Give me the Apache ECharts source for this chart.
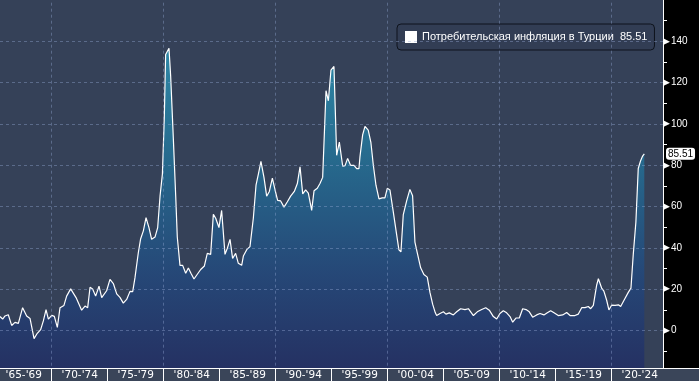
<!DOCTYPE html>
<html>
<head>
<meta charset="utf-8">
<script src="https://cdn.jsdelivr.net/npm/echarts@6/dist/echarts.min.js"></script>
<style>
html,body{margin:0;padding:0;background:#000;}
#chart{width:699px;height:381px;}
</style>
</head>
<body>
<div id="chart"></div>
<script>
// decimal year of each reading
const dates = [
1965.38,1965.62,1965.83,1966.12,1966.42,1966.72,1967.02,1967.40,1967.76,1968.06,
1968.42,1968.71,1969.01,1969.25,1969.49,1969.70,1970.00,1970.23,1970.50,1970.74,
1971.09,1971.33,1971.69,1972.17,1972.67,1972.97,1973.21,1973.42,1973.65,1973.92,
1974.22,1974.46,1974.90,1975.20,1975.50,1975.80,1976.09,1976.39,1976.69,1976.99,
1977.23,1977.43,1977.73,1977.94,1978.18,1978.42,1978.68,1978.92,1979.22,1979.46,
1979.67,1979.88,1980.05,1980.17,1980.47,1980.62,1980.86,1981.07,1981.21,1981.45,
1981.69,1981.96,1982.20,1982.43,1982.70,1983.00,1983.30,1983.63,1983.89,1984.19,
1984.43,1984.64,1984.93,1985.17,1985.47,1985.68,1985.92,1986.15,1986.42,1986.66,
1986.96,1987.11,1987.41,1987.70,1988.00,1988.24,1988.45,1988.68,1988.95,1989.19,
1989.43,1989.70,1989.94,1990.17,1990.44,1990.74,1991.04,1991.33,1991.66,1991.93,
1992.17,1992.41,1992.67,1992.91,1993.21,1993.42,1993.71,1993.95,1994.19,1994.49,
1994.70,1994.93,1995.20,1995.44,1995.68,1995.98,1996.19,1996.42,1996.69,1996.99,
1997.23,1997.43,1997.52,1997.76,1997.97,1998.26,1998.50,1998.71,1998.95,1999.22,
1999.51,1999.75,1999.96,2000.20,2000.50,2000.79,2001.00,2001.18,2001.39,2001.69,
2001.98,2002.22,2002.43,2002.64,2002.94,2003.23,2003.53,2003.77,2004.01,2004.25,
2004.37,2004.67,2004.97,2005.20,2005.50,2005.86,2006.16,2006.51,2006.90,2007.20,
2007.65,2008.00,2008.39,2008.75,2009.07,2009.43,2009.73,2010.02,2010.32,2010.62,
2010.92,2011.16,2011.45,2011.75,2012.05,2012.35,2012.64,2012.94,2013.30,2013.60,
2013.95,2014.25,2014.55,2014.85,2015.23,2015.62,2015.98,2016.28,2016.72,2017.02,
2017.32,2017.62,2017.91,2018.12,2018.36,2018.66,2018.81,2019.10,2019.30,2019.55,
2019.75,2019.99,2020.30,2020.60,2020.80,2021.10,2021.48,2021.72,2021.93,2022.16,
2022.37,2022.58,2022.76,2022.91
];
// consumer inflation, % y/y
const cpi = [
6.7,5.5,7.0,7.6,2.4,3.9,3.4,11.0,7.0,5.8,
-4.0,-1.4,0.4,4.6,10.0,5.5,7.3,6.8,1.5,11.0,
12.1,16.6,20.1,15.9,9.8,11.8,11.0,20.9,20.1,16.6,
21.4,15.9,19.2,24.7,22.7,17.7,16.0,13.2,15.0,18.9,
18.8,25.4,37.6,44.4,48.2,54.6,49.8,44.1,45.2,49.8,
65.0,75.7,103.0,133.6,136.6,123.0,92.5,65.0,45.2,31.5,
31.5,27.7,30.2,27.7,24.9,27.2,29.5,31.2,37.3,36.8,
56.2,54.3,49.8,58.1,36.8,39.8,44.1,34.8,37.3,32.5,
31.5,36.0,39.1,40.6,54.3,70.3,75.7,81.8,74.1,65.0,
67.3,73.7,68.0,63.0,62.7,59.7,62.3,65.0,67.3,71.1,
79.2,66.1,68.0,66.5,58.1,67.6,68.8,71.1,74.1,116.1,
111.2,126.0,127.8,84.8,91.2,79.5,79.8,83.3,79.9,79.9,
78.3,78.3,84.0,94.7,98.8,97.0,90.9,80.2,70.3,63.7,
64.2,64.2,68.8,68.0,57.3,46.6,39.0,38.0,56.1,62.7,
68.3,65.2,42.8,37.5,30.3,27.1,25.8,18.4,12.7,8.5,
7.2,8.2,9.0,7.9,8.5,7.5,9.0,10.5,10.1,10.5,
7.2,9.0,10.1,11.0,9.8,6.7,5.5,8.2,9.5,8.5,
6.7,4.0,6.0,6.0,10.5,10.1,9.0,6.4,7.5,8.2,
7.5,8.5,9.5,8.5,7.2,7.5,8.7,7.2,7.2,7.9,
11.0,11.0,11.6,10.5,12.1,22.0,25.0,20.5,19.0,14.6,
9.9,12.2,12.1,12.4,11.6,14.6,18.4,20.5,37.2,52.5,
78.4,82.2,84.4,85.51
];
const seriesName = 'Потребительская инфляция в Турции';
const lastValue = '85.51';
const periodLabels = ["'65-'69","'70-'74","'75-'79","'80-'84","'85-'89","'90-'94","'95-'99","'00-'04","'05-'09","'10-'14","'15-'19","'20-'24"];
const periodStarts = [1965,1970,1975,1980,1985,1990,1995,2000,2005,2010,2015,2020];
const decadeLines = [1970,1980,1990,2000,2010,2020];
const valueLines = [0,20,40,60,80,100,120,140];

const X_MIN = 1965.38, X_MAX = 2024.58;
const periodBounds = periodStarts.slice(1);
const periodMids = periodStarts.map(s => s + 2.5);

const chart = echarts.init(document.getElementById('chart'), null, {renderer: 'canvas'});
chart.setOption({
  backgroundColor: '#000',
  animation: false,
  grid: {left: 0, right: 36, top: -21.6, bottom: 9.3, show: true, backgroundColor: '#354158', borderWidth: 0},
  legend: {
    left: 397, top: 24,
    padding: [7, 7, 7, 8],
    itemWidth: 12, itemHeight: 12, itemGap: 10,
    icon: 'rect',
    backgroundColor: '#323d54', borderColor: '#0e131c', borderWidth: 1, borderRadius: 4,
    textStyle: {color: '#fff', fontSize: 11, fontFamily: 'Liberation Sans'},
    formatter: n => n + '  ' + lastValue,
    data: [{name: seriesName, itemStyle: {color: '#fff'}}]
  },
  xAxis: [
    {
      type: 'value', min: X_MIN, max: X_MAX,
      axisLine: {show: false},
      axisLabel: {show: false},
      axisTick: {show: false},
      splitLine: {show: false}
    },
    {
      type: 'value', min: X_MIN, max: X_MAX, position: 'bottom', offset: -3.7, z: 60,
      axisLine: {show: true, lineStyle: {color: '#fff', width: 1}},
      axisTick: {show: true, customValues: periodBounds, length: 13, lineStyle: {color: '#fff', width: 1}},
      axisLabel: {
        show: true, customValues: periodMids, margin: 2,
        color: '#fff', fontSize: 10.5, fontFamily: 'DejaVu Sans',
        formatter: v => periodLabels[Math.round((v - 1967.5) / 5)] || ''
      },
      splitLine: {show: false}
    }
  ],
  yAxis: {
    type: 'value', position: 'right', min: -20, max: 160, interval: 20,
    axisLine: {show: true, lineStyle: {color: '#fff', width: 1}},
    axisTick: {show: false},
    minorTick: {show: true, splitNumber: 2, length: 4, lineStyle: {color: '#fff', width: 1}},
    minorSplitLine: {show: false},
    splitLine: {show: false},
    axisLabel: {
      margin: 0,
      formatter: v => (v >= 0 && v <= 140) ? '{a|\u25B6}{b|' + v + '}' : '',
      rich: {
        a: {color: '#fff', fontSize: 9, fontFamily: 'DejaVu Sans'},
        b: {color: '#fff', fontSize: 10, fontFamily: 'Liberation Sans', padding: [0, 0, 0, 1]}
      }
    },
    axisPointer: {
      show: true, type: 'none', status: 'show', value: 85.51, triggerTooltip: false,
      label: {
        show: true, backgroundColor: '#fff', color: '#000', fontSize: 10,
        fontFamily: 'Liberation Sans', padding: [1, 2, 1, 2], borderRadius: 3, margin: 3,
        formatter: () => lastValue
      }
    }
  },
  graphic: [
    {type: 'rect', z: 50, shape: {x: 0, y: 368, width: 699, height: 13}, style: {fill: '#3a4559'}},
    {type: 'line', z: 55, shape: {x1: 663, y1: 368.5, x2: 699, y2: 368.5}, style: {stroke: '#fff', lineWidth: 1}}
  ],
  series: [{
    name: seriesName,
    type: 'line',
    xAxisIndex: 0,
    data: dates.map((d, i) => [d, cpi[i]]),
    showSymbol: false,
    itemStyle: {color: '#fff'},
    lineStyle: {color: '#fff', width: 1.2},
    areaStyle: {
      origin: 'start',
      color: {type: 'linear', x: 0, y: 0, x2: 0, y2: 1, colorStops: [
        {offset: 0, color: '#2ba6c8'},
        {offset: 0.35, color: '#207aa3'},
        {offset: 0.7, color: '#1f4a84'},
        {offset: 1, color: '#1e2966'}
      ]}
    },
    markLine: {
      silent: true,
      symbol: ['none', 'none'],
      label: {show: false},
      emphasis: {disabled: true},
      lineStyle: {color: 'rgba(150,170,215,0.4)', type: [3, 3], width: 1},
      data: decadeLines.map(v => ({xAxis: v})).concat(valueLines.map(v => ({yAxis: v})))
    }
  }]
});
</script>
</body>
</html>
